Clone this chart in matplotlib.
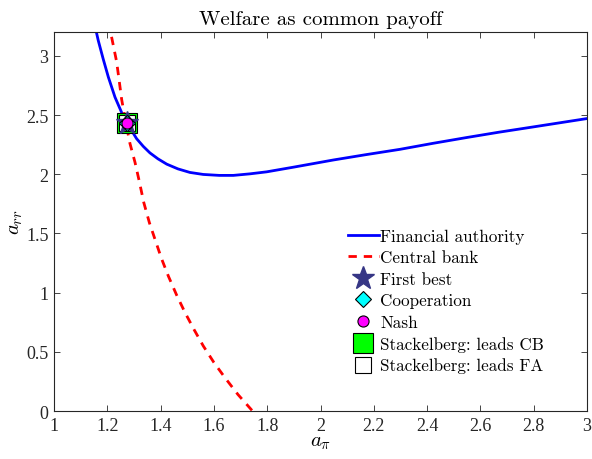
import matplotlib
matplotlib.use("Agg")
import matplotlib.pyplot as plt

# ── Data ──────────────────────────────────────────────────────────────────────
fa_x = [1.160, 1.166, 1.185, 1.204, 1.229, 1.254, 1.280, 1.310, 1.335, 1.360,
        1.390, 1.423, 1.465, 1.510, 1.560, 1.620, 1.673, 1.735, 1.798, 1.900,
        2.048, 2.170, 2.298, 2.420, 2.549, 2.670, 2.800, 2.900, 3.000]
fa_y = [3.19, 3.13, 2.97, 2.82, 2.65, 2.52, 2.41, 2.30, 2.235, 2.18,
        2.13, 2.085, 2.045, 2.015, 1.998, 1.99, 1.99, 2.003, 2.02, 2.06,
        2.12, 2.165, 2.21, 2.26, 2.31, 2.355, 2.40, 2.435, 2.47]

cb_x = [1.216, 1.235, 1.244, 1.254, 1.270, 1.285, 1.304, 1.320, 1.337, 1.358,
        1.379, 1.403, 1.429, 1.460, 1.492, 1.525, 1.560, 1.600, 1.642, 1.690,
        1.745]
cb_y = [3.16, 2.95, 2.80, 2.63, 2.43, 2.26, 2.10, 1.94, 1.76, 1.59,
        1.45, 1.29, 1.14, 0.98, 0.83, 0.69, 0.55, 0.41, 0.28, 0.14,
        0.00]

eq_x = 1.273
eq_y = 2.43

x_ticks = [1, 1.2, 1.4, 1.6, 1.8, 2, 2.2, 2.4, 2.6, 2.8, 3]
y_ticks = [0, 0.5, 1, 1.5, 2, 2.5, 3]

# ── Style ─────────────────────────────────────────────────────────────────────
plt.rcParams["mathtext.fontset"] = "cm"
plt.rcParams["font.family"] = ["cmr10", "DejaVu Serif"]
plt.rcParams["axes.unicode_minus"] = False

fig = plt.figure(figsize=(5.92, 4.60), dpi=100)
ax = fig.add_axes([0.0912, 0.1043, 0.9004, 0.8237])

ax.plot(fa_x, fa_y, color="#0000ff", linewidth=2.0, label="Financial authority", zorder=2)
ax.plot(cb_x, cb_y, color="#ff0000", linewidth=2.0, dashes=(3, 2.5),
        label="Central bank", zorder=2)

ax.plot(eq_x, eq_y, linestyle="none", marker="*", markersize=17,
        markerfacecolor="#363685", markeredgecolor="#363685",
        label="First best", zorder=5)
ax.plot(eq_x, eq_y, linestyle="none", marker="D", markersize=8,
        markerfacecolor="#00ffff", markeredgecolor="black", markeredgewidth=0.8,
        label="Cooperation", zorder=6)
ax.plot(eq_x, eq_y, linestyle="none", marker="o", markersize=8,
        markerfacecolor="#ff00ff", markeredgecolor="black", markeredgewidth=0.8,
        label="Nash", zorder=7)
ax.plot(eq_x, eq_y, linestyle="none", marker="s", markersize=14,
        markerfacecolor="#00ff00", markeredgecolor="black", markeredgewidth=0.8,
        label="Stackelberg: leads CB", zorder=3)
ax.plot(eq_x, eq_y, linestyle="none", marker="s", markersize=11,
        markerfacecolor="white", markeredgecolor="black", markeredgewidth=0.8,
        label="Stackelberg: leads FA", zorder=4)

ax.set_xlim(1, 3)
ax.set_ylim(0, 3.2)
ax.set_xticks(x_ticks)
ax.set_yticks(y_ticks)
ax.set_xticklabels([f"{v:g}" for v in x_ticks], fontfamily="Liberation Serif", fontsize=13)
ax.set_yticklabels([f"{v:g}" for v in y_ticks], fontfamily="Liberation Serif", fontsize=13)
ax.tick_params(direction="in", top=True, right=True, length=4, width=0.6, colors="#262626",
               labelcolor="#262626", pad=4)
for sp in ax.spines.values():
    sp.set_linewidth(0.8)
    sp.set_color("#262626")

ax.set_xlabel(r"$a_\pi$", fontsize=15, labelpad=0)
ax.set_ylabel(r"$a_{rr}$", fontsize=15, labelpad=1)
ax.set_title("Welfare as common payoff", fontsize=15, pad=6)

ax.legend(loc="upper left", bbox_to_anchor=(0.538, 0.50), frameon=False,
          fontsize=12.3, handlelength=1.85, handletextpad=0.05, labelspacing=0.36,
          borderaxespad=0)

fig.savefig("out.png", dpi=100)
